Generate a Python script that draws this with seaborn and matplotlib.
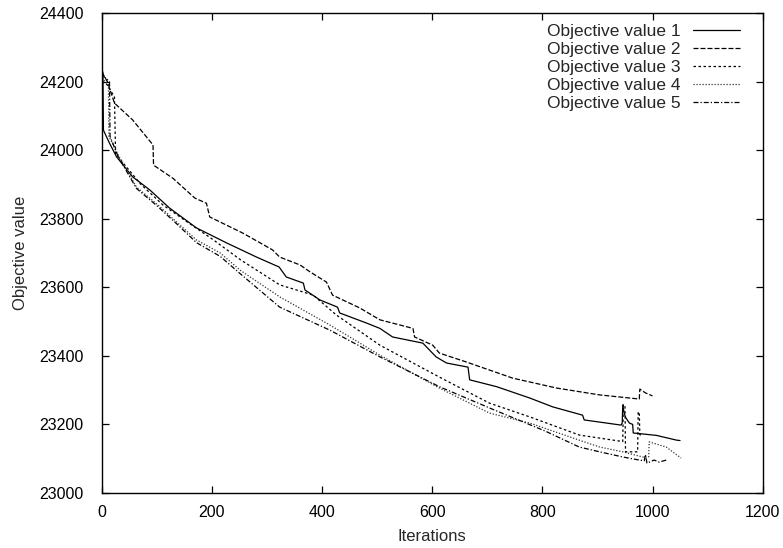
import matplotlib
matplotlib.use("Agg")
import matplotlib.pyplot as plt
import seaborn as sns
import pandas as pd

# ---- data ----
it1 = [0, 2, 3, 14, 27, 56, 87, 123, 172, 227, 281, 322, 335, 366, 369, 396, 428, 432, 480,
       505, 528, 583, 595, 607, 626, 665, 668, 717, 777, 819, 873, 876, 943, 945, 946, 949,
       952, 958, 964, 965, 1007, 1044, 1050]
v1 = [24228, 24228, 24058, 24020, 23980, 23922, 23884, 23831, 23773, 23729, 23688, 23659, 23630,
      23612, 23592, 23563, 23542, 23525, 23496, 23480, 23455, 23437, 23417, 23397, 23379, 23367,
      23330, 23310, 23277, 23251, 23227, 23213, 23198, 23204, 23257, 23230, 23218, 23204, 23200,
      23175, 23168, 23154, 23153]

it2 = [0, 10, 23, 56, 93, 94, 129, 169, 190, 196, 256, 310, 323, 360, 378, 408, 419, 468, 505,
       565, 568, 601, 613, 662, 746, 826, 904, 976, 977, 987, 1000]
v2 = [24228, 24200, 24137, 24088, 24015, 23956, 23918, 23860, 23845, 23805, 23758, 23709, 23688,
      23665, 23645, 23615, 23577, 23540, 23505, 23480, 23455, 23431, 23408, 23382, 23335, 23306,
      23286, 23274, 23303, 23292, 23283]

it3 = [0, 10, 23, 25, 40, 71, 111, 151, 201, 252, 323, 384, 426, 505, 613, 704, 777, 867, 904,
       946, 947, 950, 951, 973, 974, 976, 977, 982]
v3 = [24200, 24190, 24155, 23991, 23960, 23900, 23840, 23795, 23740, 23680, 23607, 23577, 23519,
      23431, 23338, 23262, 23222, 23169, 23160, 23150, 23257, 23257, 23120, 23120, 23236, 23236,
      23170, 23168]

it4 = [0, 12, 13, 30, 63, 102, 136, 172, 215, 251, 323, 414, 505, 613, 704, 777, 867, 904, 946,
       982, 993, 994, 1025, 1045, 1052]
v4 = [24210, 24190, 24040, 23985, 23892, 23840, 23790, 23738, 23700, 23650, 23572, 23490, 23402,
      23306, 23233, 23204, 23154, 23134, 23120, 23105, 23105, 23149, 23134, 23110, 23102]

it5 = [0, 14, 15, 30, 63, 102, 136, 172, 215, 251, 323, 414, 505, 613, 704, 806, 867, 904, 946,
       976, 985, 987, 990, 1003, 1012, 1025]
v5 = [24220, 24200, 24040, 23980, 23888, 23835, 23785, 23730, 23690, 23640, 23542, 23475, 23397,
      23310, 23248, 23180, 23134, 23120, 23105, 23096, 23094, 23112, 23087, 23096, 23090, 23096]

labels = ["Objective value 1", "Objective value 2", "Objective value 3",
          "Objective value 4", "Objective value 5"]
x_ticks = [0, 200, 400, 600, 800, 1000, 1200]
y_ticks = [23000, 23200, 23400, 23600, 23800, 24000, 24200, 24400]

frames = []
for lab, xs, ys in zip(labels, [it1, it2, it3, it4, it5], [v1, v2, v3, v4, v5]):
    frames.append(pd.DataFrame({"Iterations": xs, "Objective value": ys, "series": lab}))
df = pd.concat(frames, ignore_index=True)

sns.set_theme(style="ticks")
plt.rcParams["font.family"] = ["Liberation Sans", "DejaVu Sans"]

fig = plt.figure(figsize=(7.83, 5.48), dpi=100)
ax = fig.add_axes([0.130, 0.1004, 0.844, 0.876])

dashes = {
    labels[0]: "",
    labels[1]: (4, 1.6),
    labels[2]: (2, 2),
    labels[3]: (1, 1.4),
    labels[4]: (4, 1.6, 1, 1.6),
}
palette = {labels[0]: "black", labels[1]: "black", labels[2]: "black",
           labels[3]: "#333333", labels[4]: "black"}

sns.lineplot(data=df, x="Iterations", y="Objective value", hue="series", style="series",
             dashes=dashes, palette=palette, estimator=None, sort=False, linewidth=0.9, ax=ax)

ax.set_xlim(0, 1200)
ax.set_ylim(23000, 24400)
ax.set_xticks(x_ticks)
ax.set_yticks(y_ticks)
ax.tick_params(direction="in", top=True, right=True, length=5, width=0.9,
               labelsize=11.5, colors="black")
ax.tick_params(axis="y", pad=13)
ax.tick_params(axis="x", pad=9)
for s in ax.spines.values():
    s.set_linewidth(1.0)
    s.set_color("black")
ax.set_xlabel("Iterations", fontsize=12, labelpad=6)
ax.set_ylabel("Objective value", fontsize=12, labelpad=8)

leg = ax.legend(loc="upper right", frameon=False, markerfirst=False, fontsize=12.5,
                handlelength=2.7, handletextpad=0.7, labelspacing=0.16,
                borderaxespad=0.0, bbox_to_anchor=(0.976, 0.992))
for h in leg.get_lines():
    h.set_linewidth(0.9)

fig.savefig("out.png", dpi=100)
